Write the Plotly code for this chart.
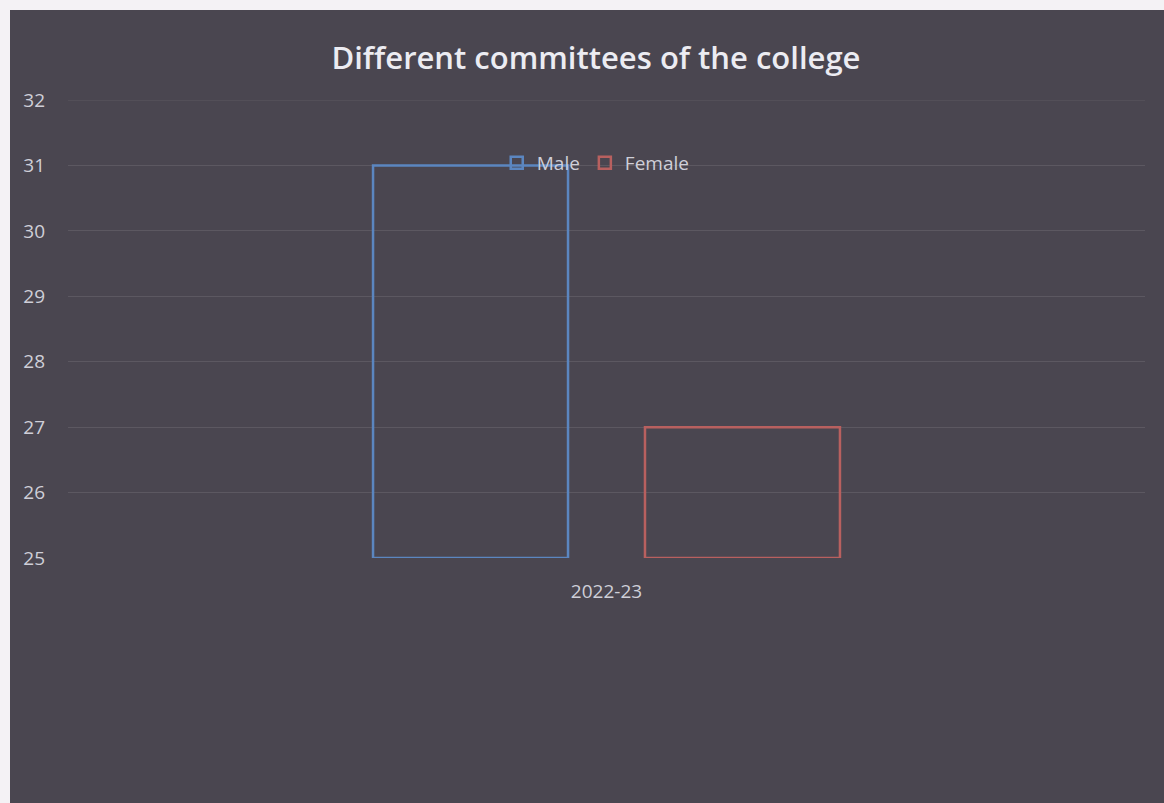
import plotly.graph_objects as go

# Chart data
categories = ["2022-23"]
male = [31]
female = [27]
series_names = ["Male", "Female"]
y_ticks = [25, 26, 27, 28, 29, 30, 31, 32]

W, H = 1164, 803
ML, MR, MT, MB = 68, 19, 100, 245
PW = W - ML - MR
PH = H - MT - MB

BG = "#4a4650"
TXT = "#cfcfd8"
GRID = "rgba(255,255,255,0.10)"
BLUE = "#5b86c0"
RED = "#b8605f"
BASE = y_ticks[0]

fig = go.Figure()
fig.add_trace(go.Bar(
    x=categories, y=[v - BASE for v in male], base=BASE, name=series_names[0],
    marker=dict(color="rgba(0,0,0,0)", line=dict(color=BLUE, width=2.5)),
))
fig.add_trace(go.Bar(
    x=categories, y=[v - BASE for v in female], base=BASE, name=series_names[1],
    marker=dict(color="rgba(0,0,0,0)", line=dict(color=RED, width=2.5)),
))


def px_x(p):
    return (p - ML) / PW


def px_y(p):
    return (H - MB - p) / PH


# top gridline sits on the plot edge, draw it explicitly
fig.add_shape(type="line", xref="paper", yref="y", x0=0, x1=1,
              y0=y_ticks[-1], y1=y_ticks[-1], line=dict(color=GRID, width=1))

# white page edges around the dark chart area
fig.add_shape(type="rect", xref="paper", yref="paper", layer="above",
              x0=px_x(0), x1=px_x(10), y0=px_y(H), y1=px_y(0),
              fillcolor="#f4f2f5", line=dict(width=0))
fig.add_shape(type="rect", xref="paper", yref="paper", layer="above",
              x0=px_x(0), x1=px_x(W), y0=px_y(10), y1=px_y(0),
              fillcolor="#f4f2f5", line=dict(width=0))

fig.update_layout(
    width=W, height=H,
    margin=dict(l=ML, r=MR, t=MT, b=MB),
    paper_bgcolor=BG, plot_bgcolor=BG,
    font=dict(family="Open Sans, sans-serif", color=TXT, size=19),
    title=dict(text="Different committees of the college", x=0.512, xanchor="center",
               y=1 - 58 / H, yanchor="middle",
               font=dict(size=31, color="#ececf2", family="Open Sans, sans-serif", weight=600)),
    barmode="group", bargap=0.495, bargroupgap=0.283,
    showlegend=True,
    legend=dict(orientation="h", x=0.49, xanchor="center", y=px_y(163), yanchor="middle",
                bgcolor="rgba(0,0,0,0)", font=dict(size=19, color=TXT),
                itemwidth=30, tracegroupgap=0),
    xaxis=dict(showgrid=False, showline=False, zeroline=False, ticks="",
               ticklabelstandoff=20, tickfont=dict(size=19, color=TXT)),
    yaxis=dict(range=[BASE, y_ticks[-1]], tickvals=y_ticks, showgrid=True,
               gridcolor=GRID, gridwidth=1, zeroline=False,
               showline=False, ticks="", ticklabelstandoff=22,
               tickfont=dict(size=19, color=TXT)),
)

fig.write_html("out.html")
